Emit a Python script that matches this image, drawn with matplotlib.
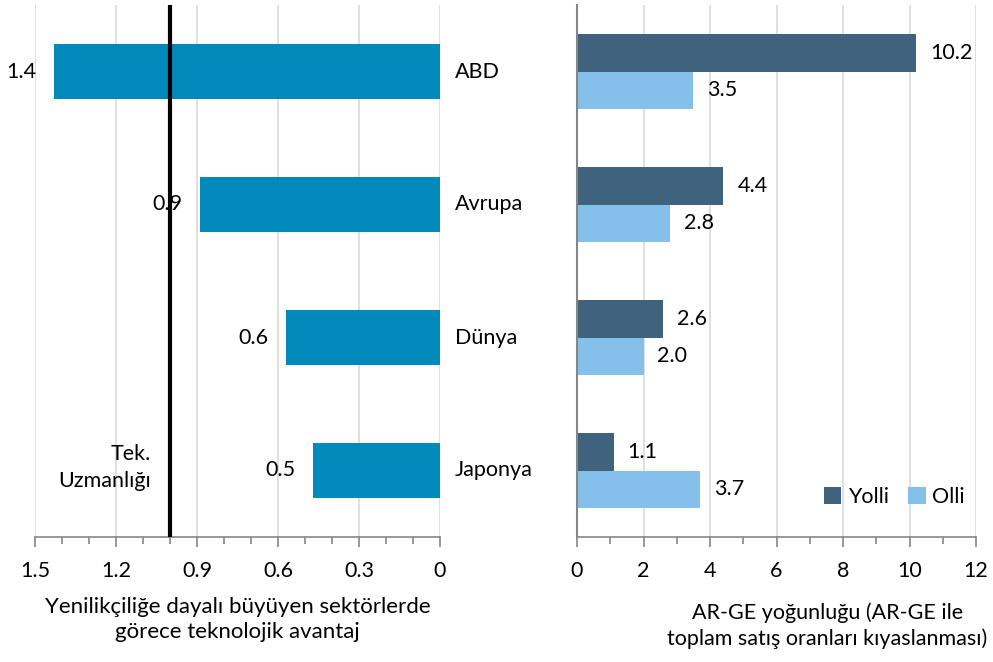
import numpy as np
import matplotlib.pyplot as plt
from matplotlib.ticker import MultipleLocator

# veriler
bolgeler = ['ABD', 'Avrupa', 'Dünya', 'Japonya']
tek_avantaj = [1.43, 0.89, 0.57, 0.47]
tek_etiket = ['1.4', '0.9', '0.6', '0.5']
yolli = [10.2, 4.4, 2.6, 1.1]
olli = [3.5, 2.8, 2.0, 3.7]

plt.rcParams['font.family'] = ['Lato', 'DejaVu Sans']
plt.rcParams['font.size'] = 15.5

fig = plt.figure(figsize=(9.93, 6.62), dpi=100)
W, H = 993, 662
ax1 = fig.add_axes([35 / W, 125 / H, 405 / W, 532 / H])
ax2 = fig.add_axes([577 / W, 125 / H, 399 / W, 532 / H])

y = np.arange(len(bolgeler))
grid_c = '#D9D9D9'
axis_c = '#868686'

# sol panel
ax1.barh(y, tek_avantaj, height=0.41, color='#0089BA', zorder=2)
ax1.set_xlim(1.5, 0)
ax1.set_ylim(3.5, -0.5)
ax1.xaxis.set_minor_locator(MultipleLocator(0.1))
ax1.set_xticks([1.5, 1.2, 0.9, 0.6, 0.3, 0])
ax1.set_xticklabels(['1.5', '1.2', '0.9', '0.6', '0.3', '0'])
ax1.grid(axis='x', color=grid_c, linewidth=1.2, zorder=0)
ax1.set_yticks([])
for s in ['top', 'left', 'right']:
    ax1.spines[s].set_visible(False)
ax1.spines['bottom'].set_color(axis_c)
ax1.spines['bottom'].set_linewidth(1.2)
ax1.tick_params(axis='x', which='major', direction='out', color=axis_c, length=7, width=1.2, pad=10)
ax1.tick_params(axis='x', which='minor', direction='out', color=axis_c, length=5, width=1.2)
ax1.axvline(1.0, color='black', linewidth=3, zorder=3)
for i, (v, t) in enumerate(zip(tek_avantaj, tek_etiket)):
    ax1.text(v + 0.065, i, t, ha='right', va='center', zorder=4)
for i, b in enumerate(bolgeler):
    ax1.text(-0.055, i, b, ha='left', va='center', clip_on=False)
ax1.text(1.07, 2.98, 'Tek.\nUzmanlığı', ha='right', va='center', linespacing=1.45)
ax1.set_xlabel('Yenilikçiliğe dayalı büyüyen sektörlerde\ngörece teknolojik avantaj',
               labelpad=12, linespacing=1.3, fontsize=16)

# sag panel
bh = 0.28
ax2.barh(y - bh / 2, yolli, height=bh, color='#3F637D', label='Yolli', zorder=2)
ax2.barh(y + bh / 2, olli, height=bh, color='#85C0EA', label='Olli', zorder=2)
ax2.set_xlim(0, 12)
ax2.set_ylim(3.5, -0.5)
ax2.xaxis.set_major_locator(MultipleLocator(2))
ax2.xaxis.set_minor_locator(MultipleLocator(1))
ax2.grid(axis='x', color=grid_c, linewidth=1.2, zorder=0)
ax2.set_yticks([])
for s in ['top', 'right']:
    ax2.spines[s].set_visible(False)
ax2.spines['bottom'].set_color(axis_c)
ax2.spines['bottom'].set_linewidth(1.2)
ax2.spines['left'].set_color(axis_c)
ax2.spines['left'].set_linewidth(1.5)
ax2.tick_params(axis='x', which='major', direction='out', color=axis_c, length=7, width=1.2, pad=10)
ax2.tick_params(axis='x', which='minor', direction='out', color=axis_c, length=5, width=1.2)
for i in range(len(bolgeler)):
    ax2.text(yolli[i] + 0.42, i - bh / 2, f'{yolli[i]:.1f}', ha='left', va='center')
    ax2.text(olli[i] + 0.42, i + bh / 2, f'{olli[i]:.1f}', ha='left', va='center')
ax2.set_xlabel('AR-GE yoğunluğu (AR-GE ile\ntoplam satış oranları kıyaslanması)',
               labelpad=16, linespacing=1.3, ha='center', x=0.627)
ax2.legend(loc='lower right', bbox_to_anchor=(1.02, 0.02), ncol=2, frameon=False,
           handlelength=0.8, handleheight=0.8, handletextpad=0.3, columnspacing=0.9)

fig.savefig('out.png', dpi=100)
